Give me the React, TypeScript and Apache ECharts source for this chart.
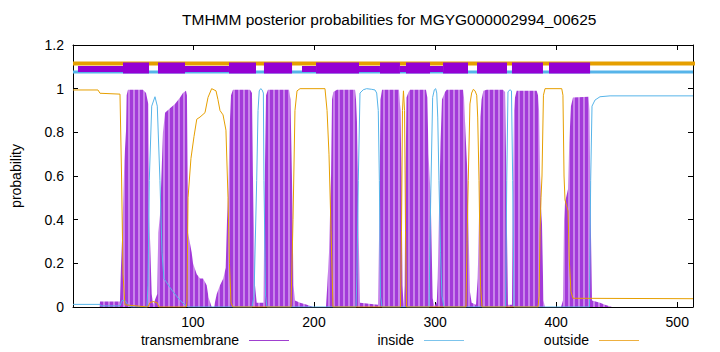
import React, { useEffect, useRef } from "react";
import * as echarts from "echarts";

const TITLE = "TMHMM posterior probabilities for MGYG000002994_00625";
const SEQ_START = 1;
const SEQ_END = 513;
const X_TICKS = [100, 200, 300, 400, 500];
const Y_LABEL = "probability";
const SERIES_NAMES = ["transmembrane", "inside", "outside"];

// posterior probability of transmembrane state, [residue, probability]
const transmembrane: [number, number][] = [
  [1, 0], [22.9, 0], [23.3, 0.025], [39.8, 0.025], [40.6, 0.18], [41.7, 0.34], [43.4, 0.67],
  [44.8, 0.81], [45.3, 0.97], [46.4, 0.995], [58.8, 0.995], [61.3, 0.98], [63.2, 0.93],
  [64.0, 0.42], [66.0, 0.06], [67.1, 0.01], [70.6, 0.06], [71.4, 0.34], [72.8, 0.42],
  [73.7, 0.55], [75.3, 0.8], [77.0, 0.89], [81.1, 0.91], [85.2, 0.93], [89.4, 0.96],
  [91.8, 0.98], [94.3, 0.99], [95.1, 0.97], [96.0, 0.34], [99.0, 0.25], [100.1, 0.2],
  [103.2, 0.15], [105.9, 0.13], [108.4, 0.13], [111.4, 0.1], [112.9, 0.045], [115.5, 0],
  [117.4, 0], [119.7, 0.06], [122.4, 0.1], [125.1, 0.13], [127.1, 0.18], [128.2, 0.4],
  [129.4, 0.55], [130.2, 0.8], [131.5, 0.97], [133.1, 0.995], [147.2, 0.995], [148.8, 0.98],
  [149.6, 0.6], [150.5, 0.35], [151.3, 0.1], [152.7, 0.02], [158.3, 0.02], [159.0, 0.42],
  [159.6, 0.67], [160.4, 0.97], [162.0, 0.995], [179.4, 0.995], [180.6, 0.95], [181.8, 0.6],
  [183.1, 0.1], [184.3, 0.03], [188.5, 0.02], [194.2, 0.01], [199.2, 0], [209.9, 0],
  [211.0, 0.1], [212.4, 0.25], [214.1, 0.6], [214.9, 0.95], [216.0, 0.985], [219.0, 0.995],
  [233.9, 0.995], [234.7, 0.95], [235.5, 0.85], [236.6, 0.42], [238.0, 0.02], [252.9, 0.01],
  [254.0, 0.42], [254.9, 0.95], [256.2, 0.995], [270.2, 0.995], [271.4, 0.9], [272.3, 0.6],
  [273.1, 0.1], [273.9, 0.01], [274.8, 0.1], [275.6, 0.6], [276.4, 0.96], [278.1, 0.985],
  [279.3, 0.995], [292.5, 0.995], [293.6, 0.96], [294.6, 0.7], [296.4, 0.5], [298.0, 0.04],
  [299.4, 0.005], [301.4, 0.02], [302.2, 0.13], [303.2, 0.42], [304.5, 0.75], [305.7, 0.95],
  [308.2, 0.985], [309.6, 0.995], [323.1, 0.995], [323.9, 0.96], [325.1, 0.8], [326.4, 0.65],
  [327.4, 0.42], [328.8, 0.07], [330.2, 0.02], [333.8, 0.01], [335.2, 0.13], [336.3, 0.42],
  [337.5, 0.87], [338.4, 0.95], [339.9, 0.99], [342.7, 0.995], [356.1, 0.995], [357.8, 0.985],
  [358.6, 0.7], [359.2, 0.42], [360.2, 0.01], [363.5, 0.01], [364.1, 0.42], [365.2, 0.9],
  [366.0, 0.96], [367.4, 0.99], [383.9, 0.99], [385.0, 0.97], [385.9, 0.9], [386.7, 0.6],
  [387.5, 0.45], [388.3, 0.38], [389.5, 0.03], [390.8, 0], [404.0, 0], [405.6, 0.03],
  [406.5, 0.4], [407.3, 0.48], [409.8, 0.54], [410.8, 0.75], [412.2, 0.92], [413.9, 0.96],
  [426.7, 0.963], [427.5, 0.9], [428.5, 0.42], [429.6, 0.03], [436.2, 0.02], [440.3, 0.01],
  [446.1, 0], [513, 0],
];

// posterior probability of inside state
const inside: [number, number][] = [
  [1, 0.012], [23.3, 0.012], [24.1, 0.005], [39.8, 0.005], [41.5, 0.03], [43.9, 0.03],
  [46.4, 0.01], [48.9, 0], [62.1, 0], [62.9, 0.1], [64.0, 0.58], [66.0, 0.92], [68.7, 0.963],
  [70.6, 0.92], [72.8, 0.58], [74.5, 0.25], [76.1, 0.13], [78.6, 0.11], [81.1, 0.09],
  [83.6, 0.07], [89.4, 0.03], [93.5, 0.01], [96.0, 0], [148.8, 0], [150.5, 0.05],
  [152.7, 0.58], [153.8, 0.9], [154.8, 0.99], [156.0, 1.0], [157.1, 0.995], [158.2, 0.98],
  [158.7, 0.58], [160.0, 0.05], [161.2, 0], [234.7, 0], [235.5, 0.15], [236.6, 0.58],
  [238.0, 0.98], [240.7, 0.995], [243.5, 1.0], [247.7, 0.997], [250.4, 0.994], [251.8, 0.98],
  [253.1, 0.9], [254.0, 0.58], [254.9, 0.05], [256.2, 0], [295.0, 0], [296.4, 0.5],
  [298.0, 0.96], [299.4, 0.995], [300.5, 1.0], [301.4, 0.98], [302.2, 0.87], [303.2, 0.58],
  [304.5, 0.25], [305.7, 0.05], [307.4, 0], [358.2, 0], [359.2, 0.58], [360.2, 0.986],
  [361.9, 0.995], [363.1, 0.99], [364.1, 0.58], [365.2, 0], [427.5, 0], [428.5, 0.58],
  [429.6, 0.92], [432.1, 0.948], [436.2, 0.963], [444.5, 0.967], [513, 0.967],
];

// posterior probability of outside state
const outside: [number, number][] = [
  [1, 0.994], [21.6, 0.994], [23.3, 0.979], [39.8, 0.975], [41.1, 0.6], [42.3, 0.15],
  [43.9, 0.01], [62.9, 0], [64.6, 0.02], [67.1, 0.025], [70.4, 0.02], [72.0, 0], [94.5, 0],
  [95.1, 0.02], [96.0, 0.5], [98.4, 0.68], [100.9, 0.78], [103.2, 0.86], [105.9, 0.87],
  [110.0, 0.89], [112.5, 0.96], [115.5, 1.0], [119.1, 0.99], [120.7, 0.95], [122.4, 0.9],
  [124.9, 0.88], [127.3, 0.81], [129.0, 0.5], [130.2, 0.2], [131.5, 0.02], [133.1, 0],
  [181.0, 0], [182.7, 0.4], [184.3, 0.9], [186.0, 0.99], [188.5, 1.0], [209.1, 1.0],
  [210.8, 0.9], [212.4, 0.7], [214.1, 0.35], [215.7, 0], [271.4, 0], [272.3, 0.35],
  [273.1, 0.9], [273.9, 0.99], [274.8, 0.9], [275.6, 0.35], [276.4, 0], [325.5, 0],
  [326.4, 0.3], [327.4, 0.58], [328.8, 0.93], [330.2, 0.98], [331.6, 0.997], [333.0, 0.99],
  [334.4, 0.97], [335.2, 0.87], [336.3, 0.58], [337.5, 0.1], [338.8, 0], [385.0, 0],
  [385.9, 0.05], [386.7, 0.35], [387.5, 0.5], [388.3, 0.6], [389.5, 0.97], [390.8, 1.0],
  [404.6, 1.0], [405.6, 0.97], [406.5, 0.6], [407.3, 0.49], [409.8, 0.44], [410.8, 0.22],
  [412.2, 0.07], [413.9, 0.04], [513, 0.038],
];

// predicted topology band at the top: [start, end] residue ranges
const OUTSIDE_BAND: [number, number][] = [[1, 535]];
const INSIDE_BAND: [number, number][] = [[1, 513]];
const TM_BLOCKS: [number, number][] = [
  [42.3, 63.8], [71.2, 93.5], [129.8, 152.1], [158.7, 181.9], [201.7, 237.2],
  [254.5, 271], [276, 295.8], [306.6, 327.2], [334.6, 359.4], [363.5, 389.1], [394.1, 428],
];
const TM_THIN: [number, number][] = [
  [5.1, 42.3], [93.5, 129.8], [190.1, 201.7], [237.2, 254.5], [271, 276], [295.8, 306.6],
];
const BAND_Y = { outside: 1.115, inside: 1.076, tm: 1.095, tmThin: 1.09 };

const FONT = "'Liberation Sans', Arial, Helvetica, sans-serif";
const C_TM = "#9400d3";
const C_IN = "#56b4e9";
const C_OUT = "#e69f00";
const LEGEND_COLORS = ["#a040d0", "#7cc4ec", "#eeb040"];

function segs(ranges: [number, number][], y: number) {
  const out: any[] = [];
  ranges.forEach(([s, e]) => {
    out.push([s, y], [e, y], [e, "-"]);
  });
  return out;
}

function makeStripe(): any {
  const c = document.createElement("canvas");
  c.width = 5;
  c.height = 4;
  const ctx = c.getContext("2d");
  if (!ctx) return "#b050df";
  ctx.fillStyle = "#c884ea";
  ctx.fillRect(0, 0, 5, 4);
  ctx.fillStyle = "#a33ad9";
  ctx.fillRect(0, 0, 3, 4);
  return { image: c, repeat: "repeat" };
}

// legend built as graphic: text right-aligned in fixed-width columns, line sample after it
function legendGraphic() {
  const colRight = [239, 414, 589];
  const y = 340;
  return SERIES_NAMES.map((n, i) => ({
    type: "group",
    children: [
      {
        type: "text",
        x: colRight[i],
        y,
        style: {
          text: n,
          fill: "#000",
          font: `14px ${FONT}`,
          align: "right",
          verticalAlign: "middle",
        },
      },
      {
        type: "line",
        shape: { x1: colRight[i] + 10, y1: y + 0.5, x2: colRight[i] + 50, y2: y + 0.5 },
        style: { stroke: LEGEND_COLORS[i], lineWidth: 1 },
      },
    ],
  }));
}

export default function App() {
  const ref = useRef<HTMLDivElement>(null);
  useEffect(() => {
    if (!ref.current) return;
    const chart = echarts.init(ref.current, undefined, { renderer: "svg" });
    const axisCommon = {
      type: "value" as const,
      axisLine: { show: true, onZero: false, lineStyle: { color: "#000", width: 1 } },
      splitLine: { show: false },
    };
    const option: any = {
      animation: false,
      backgroundColor: "#fff",
      title: {
        text: TITLE,
        left: 182,
        top: 11,
        padding: 0,
        textStyle: { fontFamily: FONT, fontSize: 15.5, fontWeight: "normal", color: "#000" },
      },
      grid: { left: 73, right: 27, top: 45, bottom: 45, containLabel: false },
      graphic: legendGraphic(),
      xAxis: [
        {
          ...axisCommon,
          min: SEQ_START,
          max: SEQ_END,
          position: "bottom",
          axisTick: { show: true, inside: true, length: 5, customValues: X_TICKS, lineStyle: { color: "#000" } },
          axisLabel: { customValues: X_TICKS, color: "#000", fontFamily: FONT, fontSize: 14, margin: 8 },
        },
        {
          ...axisCommon,
          min: SEQ_START,
          max: SEQ_END,
          position: "top",
          axisTick: { show: true, inside: true, length: 5, customValues: X_TICKS, lineStyle: { color: "#000" } },
          axisLabel: { show: false },
        },
      ],
      yAxis: [
        {
          ...axisCommon,
          min: 0,
          max: 1.2,
          interval: 0.2,
          position: "left",
          name: Y_LABEL,
          nameLocation: "middle",
          nameGap: 50,
          nameTextStyle: { fontFamily: FONT, fontSize: 14, color: "#000" },
          axisTick: { show: true, inside: true, length: 5, lineStyle: { color: "#000" } },
          axisLabel: { color: "#000", fontFamily: FONT, fontSize: 14, margin: 9 },
        },
        {
          ...axisCommon,
          min: 0,
          max: 1.2,
          interval: 0.2,
          position: "right",
          axisTick: { show: true, inside: true, length: 5, lineStyle: { color: "#000" } },
          axisLabel: { show: false },
        },
      ],
      series: [
        {
          name: SERIES_NAMES[0],
          type: "line",
          data: transmembrane,
          showSymbol: false,
          itemStyle: { color: C_TM },
          lineStyle: { width: 0, color: C_TM },
          areaStyle: { color: makeStripe(), opacity: 1 },
          z: 2,
        },
        {
          name: SERIES_NAMES[1],
          type: "line",
          data: inside,
          showSymbol: false,
          itemStyle: { color: C_IN },
          lineStyle: { width: 1, color: C_IN },
          z: 3,
        },
        {
          name: SERIES_NAMES[2],
          type: "line",
          data: outside,
          showSymbol: false,
          itemStyle: { color: C_OUT },
          lineStyle: { width: 1, color: C_OUT },
          z: 4,
        },
        {
          name: "outside band",
          type: "line",
          data: segs(OUTSIDE_BAND, BAND_Y.outside),
          showSymbol: false,
          clip: false,
          lineStyle: { width: 4, color: C_OUT, cap: "butt" },
          z: 5,
        },
        {
          name: "inside band",
          type: "line",
          data: segs(INSIDE_BAND, BAND_Y.inside),
          showSymbol: false,
          lineStyle: { width: 3, color: C_IN, cap: "butt" },
          z: 6,
        },
        {
          name: "tm thin band",
          type: "line",
          data: segs(TM_THIN, BAND_Y.tmThin),
          showSymbol: false,
          lineStyle: { width: 6, color: C_TM, cap: "butt" },
          z: 7,
        },
        {
          name: "tm band",
          type: "line",
          data: segs(TM_BLOCKS, BAND_Y.tm),
          showSymbol: false,
          lineStyle: { width: 11, color: C_TM, cap: "butt" },
          z: 8,
        },
      ],
    };
    chart.setOption(option);
    return () => chart.dispose();
  }, []);
  return (
    <div
      ref={ref}
      style={{ position: "fixed", left: 0, top: 0, width: 720, height: 352, background: "#fff" }}
    />
  );
}
